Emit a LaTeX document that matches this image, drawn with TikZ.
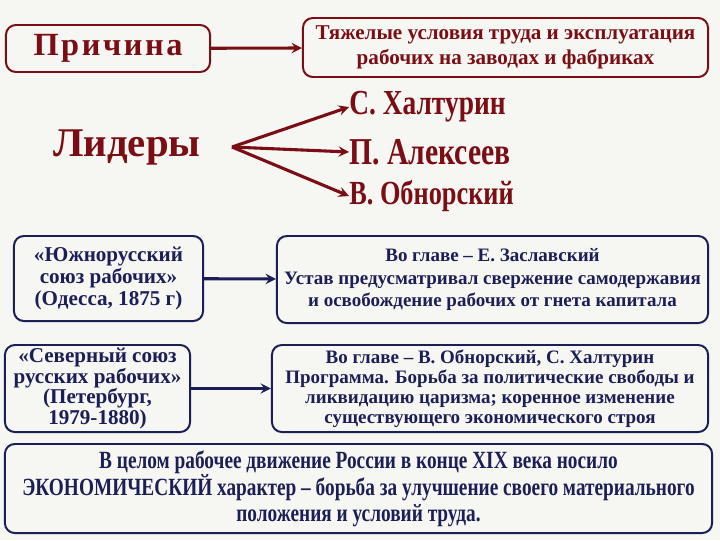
\documentclass[tikz,border=0pt]{standalone}
\usepackage{fontspec}
\setmainfont{Liberation Serif}
\newfontfamily\narrowfont[FakeStretch=0.78]{Liberation Serif}
\usepackage{tikz}
\usetikzlibrary{calc, positioning}
\definecolor{darkred}{RGB}{122,14,20}
\definecolor{navy}{RGB}{28,30,86}
\definecolor{paper}{RGB}{246,246,242}

\begin{document}
\begin{tikzpicture}[
  x=0.025cm, y=-0.025cm, >=stealth,
  rbox/.style={draw=darkred, line width=1.4pt, rounded corners=7pt, text=darkred, align=center, inner sep=0pt},
  nbox/.style={draw=navy, line width=1.4pt, rounded corners=7pt, text=navy, align=center, inner sep=0pt},
  rarr/.style={->, darkred, line width=2.2pt},
  narr/.style={->, navy, line width=2.2pt},
  leader/.style={anchor=west, text=darkred, inner sep=0pt}]
  % фон
  \fill[paper] (0,0) rectangle (720,540);
  \useasboundingbox (0,0) rectangle (720,540);
  % Причина
  \node[rbox, minimum width=5.1cm, minimum height=1.175cm,
        font={\fontsize{23}{26}\selectfont\bfseries\addfontfeature{LetterSpace=8}}]
        (cause) at (108,48.5) {Причина};
  \node[rbox, minimum width=10.125cm, minimum height=1.475cm,
        font={\fontsize{15}{17.7}\selectfont\bfseries}]
        (causetxt) at (505.5,47.5) {Тяжелые условия труда и эксплуатация\\рабочих на заводах и фабриках};
  \draw[rarr] (cause) -- (causetxt);
  % Лидеры
  \node[text=darkred, font={\fontsize{29}{32}\selectfont\bfseries}] (lead) at (127,147) {Лидеры};
  \coordinate (fan) at (232,147);
  \node[leader, font={\fontsize{25}{28}\selectfont\bfseries\narrowfont}] (khalt) at (349,107) {С. Халтурин};
  \node[leader, font={\fontsize{27}{29}\selectfont\bfseries\narrowfont}] (alex) at (349,152) {П. Алексеев};
  \node[leader, font={\fontsize{24}{26}\selectfont\bfseries\narrowfont}] (obn) at (349,196) {В. Обнорский};
  \draw[rarr] (fan) -- (khalt.west);
  \draw[rarr] (fan) -- (alex.west);
  \draw[rarr] (fan) -- (obn.west);
  % Южнорусский союз
  \node[nbox, minimum width=4.725cm, minimum height=2.125cm,
        font={\fontsize{15}{15.8}\selectfont\bfseries}]
        (south) at (108.5,278.5) {«Южнорусский\\союз рабочих»\\(Одесса, 1875 г)};
  \node[nbox, minimum width=10.775cm, minimum height=2.175cm,
        font={\fontsize{13.5}{16.3}\selectfont\bfseries}]
        (southtxt) at (492.5,279.5) {Во главе – Е. Заславский\\Устав предусматривал свержение самодержавия\\и освобождение рабочих от гнета капитала};
  \draw[narr] (south) -- (southtxt);
  % Северный союз
  \node[nbox, minimum width=4.625cm, minimum height=2.175cm,
        font={\fontsize{15}{14.5}\selectfont\bfseries}]
        (north) at (97.5,388.5) {«Северный союз\\русских рабочих»\\(Петербург,\\1979-1880)};
  \node[nbox, minimum width=10.9cm, minimum height=2.175cm,
        font={\fontsize{13.5}{14.3}\selectfont\bfseries}]
        (northtxt) at (490,388.5) {Во главе – В. Обнорский, С. Халтурин\\Программа. Борьба за политические свободы и\\ликвидацию царизма; коренное изменение\\существующего экономического строя};
  \draw[narr] (north) -- (northtxt);
  % Итог
  \node[nbox, minimum width=17.675cm, minimum height=2.225cm,
        font={\fontsize{17.6}{18}\selectfont\bfseries\narrowfont}]
        (summary) at (358.5,488.5) {В целом рабочее движение России в конце XIX века носило\\ЭКОНОМИЧЕСКИЙ характер – борьба за улучшение своего материального\\положения и условий труда.};
\end{tikzpicture}
\end{document}
